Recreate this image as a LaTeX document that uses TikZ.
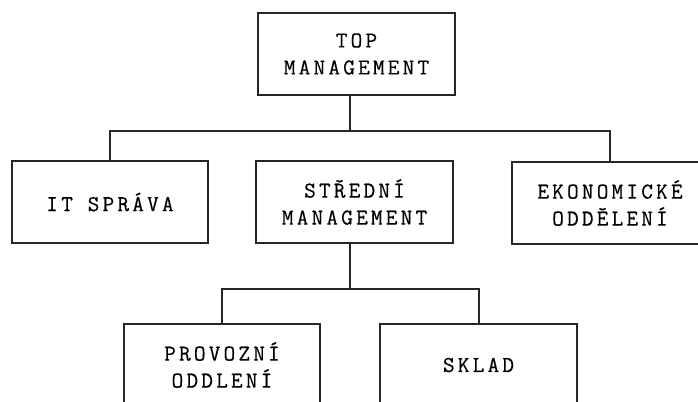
\documentclass[tikz,border=0pt]{standalone}
\usepackage{fontspec}
\newfontfamily\boxfont{Latin Modern Mono}[LetterSpace=14,FakeBold=0.4]
\begin{document}
\begin{tikzpicture}[x=0.75pt,y=-0.75pt,
  box/.style={draw=black!85,line width=1.5pt,inner sep=0pt,align=center,
    minimum width=147.5pt,minimum height=61.5pt,
    font=\boxfont\fontsize{17pt}{20.25pt}\selectfont},
  conn/.style={draw=black!85,line width=1.5pt}]
\useasboundingbox (0,0) rectangle (698,401);
\clip (0,0) rectangle (698,401);
\node[box] (top) at (356.5,54) {TOP\\MANAGEMENT};
\node[box] (it) at (110,202) {IT SPRÁVA};
\node[box] (mid) at (354.5,202) {STŘEDNÍ\\MANAGEMENT};
\node[box] (eko) at (610,203) {EKONOMICKÉ\\ODDĚLENÍ};
\node[box] (prov) at (222,365) {PROVOZNÍ\\ODDLENÍ};
\node[box] (sklad) at (478.5,365) {SKLAD};
\coordinate (j1) at (350,131);
\coordinate (j2) at (350,289);
\draw[conn] (top.south -| j1) -- (j1);
\draw[conn] (it.north) |- (j1) -| (eko.north);
\draw[conn] (mid.south -| j2) -- (j2);
\draw[conn] (prov.north) |- (j2) -| (sklad.north);
\end{tikzpicture}
\end{document}
